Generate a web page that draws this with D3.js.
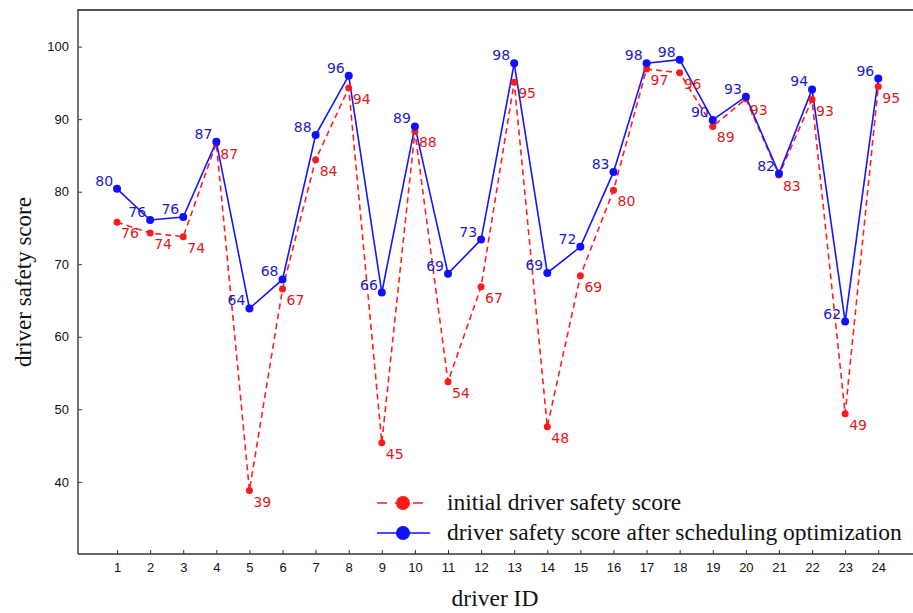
<!DOCTYPE html>
<html>
<head>
<meta charset="utf-8">
<script src="https://cdn.jsdelivr.net/npm/d3@7"></script>
<style>
  body { margin: 0; background: #fff; }
  svg { display: block; }
</style>
</head>
<body>
<div id="graf"></div>
<script>
// datos
driverIds = d3.range(1, 25)
initialScore = [75.8, 74.3, 73.8, 86.7, 38.8, 66.6, 84.4, 94.3, 45.4, 88.3, 53.8, 66.9,
                95.1, 47.6, 68.4, 80.2, 96.9, 96.4, 89.0, 92.8, 82.3, 92.7, 49.4, 94.5]
optimizedScore = [80.4, 76.1, 76.5, 86.9, 63.9, 67.9, 87.8, 96.0, 66.1, 89.0, 68.7, 73.4,
                  97.7, 68.8, 72.4, 82.7, 97.7, 98.2, 89.9, 93.1, 82.5, 94.1, 62.1, 95.6]
initialLabels = [76, 74, 74, 87, 39, 67, 84, 94, 45, 88, 54, 67, 95, 48, 69, 80, 97, 96, 89, 93, 83, 93, 49, 95]
optimizedLabels = [80, 76, 76, 87, 64, 68, 88, 96, 66, 89, 69, 73, 98, 69, 72, 83, 98, 98, 90, 93, 82, 94, 62, 96]
yTicks = [40, 50, 60, 70, 80, 90, 100]
seriesNames = ['initial driver safety score', 'driver safety score after scheduling optimization']

// configuracion
ancho = 913
alto = 613
margins = { top: 10, left: 78, right: 0, bottom: 59 }

svg = d3.select('#graf').append('svg')
  .attr('width', ancho)
  .attr('height', alto)

x = d3.scaleLinear()
  .domain([-0.18, 25.05])
  .range([margins.left, ancho - margins.right])

y = d3.scaleLinear()
  .domain([30.05, 105.05])
  .range([alto - margins.bottom, margins.top])

// ejes
xAxis = svg.append('g')
  .attr('transform', `translate(0, ${alto - margins.bottom})`)
  .call(d3.axisBottom(x).tickValues(driverIds).tickSize(-4).tickPadding(9).tickFormat(d3.format('d')))
yAxis = svg.append('g')
  .attr('transform', `translate(${margins.left}, 0)`)
  .call(d3.axisLeft(y).tickValues(yTicks).tickSize(-4).tickPadding(9))

svg.selectAll('.domain').remove()
svg.selectAll('.tick line').attr('stroke', '#333').attr('stroke-width', 1)
svg.selectAll('.tick text')
  .style('font-family', 'Liberation Sans, Arial, sans-serif')
  .style('font-size', '13px')
  .attr('fill', '#111')

// spines
spine = '#555'
svg.append('line').attr('x1', margins.left).attr('x2', ancho)
  .attr('y1', margins.top).attr('y2', margins.top)
  .attr('stroke', spine).attr('stroke-width', 2)
svg.append('line').attr('x1', margins.left).attr('x2', ancho)
  .attr('y1', alto - margins.bottom).attr('y2', alto - margins.bottom)
  .attr('stroke', '#333').attr('stroke-width', 1.5)
svg.append('line').attr('x1', margins.left).attr('x2', margins.left)
  .attr('y1', margins.top - 1).attr('y2', alto - margins.bottom)
  .attr('stroke', '#444').attr('stroke-width', 1.5)

// lineas
line = d3.line().x((d, i) => x(driverIds[i])).y(d => y(d))

svg.append('path').datum(initialScore)
  .attr('d', line).attr('fill', 'none')
  .attr('stroke', '#ff2020').attr('stroke-width', 1.6)
  .attr('stroke-dasharray', '6,4')

svg.append('path').datum(optimizedScore)
  .attr('d', line).attr('fill', 'none')
  .attr('stroke', '#1515ff').attr('stroke-width', 1.6)

svg.selectAll('.pt-init').data(initialScore).enter()
  .append('circle').attr('class', 'pt-init')
  .attr('cx', (d, i) => x(driverIds[i])).attr('cy', d => y(d))
  .attr('r', 3.5).attr('fill', '#ff1a1a')

svg.selectAll('.pt-opt').data(optimizedScore).enter()
  .append('circle').attr('class', 'pt-opt')
  .attr('cx', (d, i) => x(driverIds[i])).attr('cy', d => y(d))
  .attr('r', 4).attr('fill', '#1010ff')

// etiquetas
labelFont = 'DejaVu Sans, Verdana, sans-serif'
svg.selectAll('.lb-init').data(initialScore).enter()
  .append('text').attr('class', 'lb-init')
  .attr('x', (d, i) => x(driverIds[i]) + 4)
  .attr('y', d => y(d) + 16)
  .style('font-family', labelFont).style('font-size', '14px')
  .attr('fill', '#e01818')
  .text((d, i) => initialLabels[i])

svg.selectAll('.lb-opt').data(optimizedScore).enter()
  .append('text').attr('class', 'lb-opt')
  .attr('x', (d, i) => x(driverIds[i]) - 4)
  .attr('y', d => y(d) - 3)
  .attr('text-anchor', 'end')
  .style('font-family', labelFont).style('font-size', '14px')
  .attr('fill', '#1a1ad0')
  .text((d, i) => optimizedLabels[i])

// titulos de ejes
svg.append('text')
  .attr('transform', `translate(31, ${(margins.top + alto - margins.bottom) / 2}) rotate(-90)`)
  .attr('text-anchor', 'middle')
  .style('font-family', 'Liberation Serif, Times New Roman, serif')
  .style('font-size', '23px')
  .attr('fill', '#111')
  .text('driver safety score')

svg.append('text')
  .attr('x', 495).attr('y', 606)
  .attr('text-anchor', 'middle')
  .style('font-family', 'Liberation Serif, Times New Roman, serif')
  .style('font-size', '23.5px')
  .attr('fill', '#111')
  .text('driver ID')

// leyenda
legend = svg.append('g').attr('transform', 'translate(377, 503)')
legendColors = ['#ff1a1a', '#1010ff']
seriesNames.forEach((name, i) => {
  g = legend.append('g').attr('transform', `translate(0, ${i * 30})`)
  g.append('line').attr('x1', 0).attr('x2', 53).attr('y1', 0).attr('y2', 0)
    .attr('stroke', legendColors[i]).attr('stroke-width', 1.6)
    .attr('stroke-dasharray', i === 0 ? '10,8' : null)
  g.append('circle').attr('cx', 26).attr('cy', 0).attr('r', 7).attr('fill', legendColors[i])
  g.append('text').attr('x', 70).attr('y', 7)
    .style('font-family', 'Liberation Serif, Times New Roman, serif')
    .style('font-size', '23.5px')
    .attr('fill', '#111')
    .text(name)
})
</script>
</body>
</html>
